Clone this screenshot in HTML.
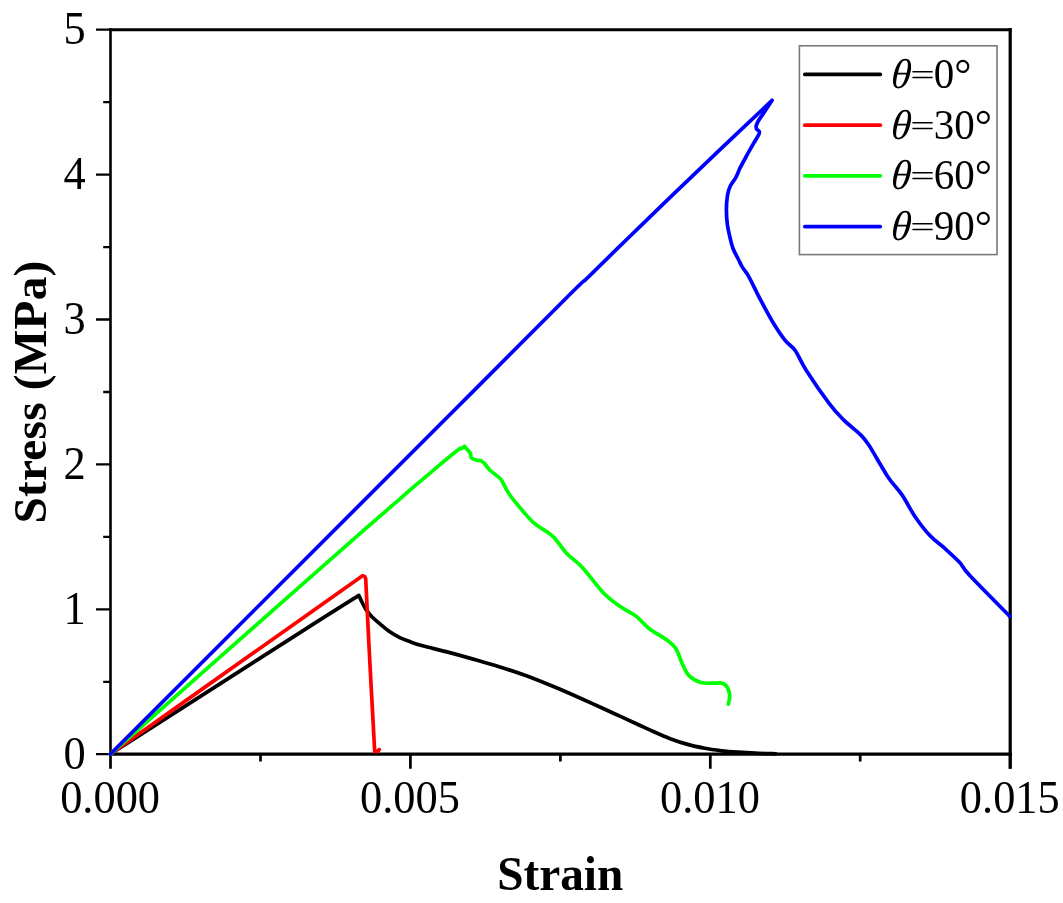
<!DOCTYPE html>
<html lang="en"><head><meta charset="utf-8"><title>Stress-Strain</title>
<style>html,body{margin:0;padding:0;background:#fff}body{width:1063px;height:903px;overflow:hidden}svg{display:block}</style>
</head><body>
<svg width="1063" height="903" viewBox="0 0 1063 903">
<rect width="1063" height="903" fill="#fff"/>
<g stroke="#000" stroke-linecap="square" fill="none">
<line x1="110.5" y1="29.7" x2="110.5" y2="754.2" stroke-width="2.6"/>
<line x1="110.5" y1="29.7" x2="1010.2" y2="29.7" stroke-width="2.9"/>
<line x1="1010.2" y1="29.7" x2="1010.2" y2="754.2" stroke-width="3.2"/>
<line x1="110.5" y1="754.2" x2="1010.2" y2="754.2" stroke-width="3.2"/>
</g>
<path d="M110.5 754.2v14.5M260.5 754.2v7.3M410.4 754.2v14.5M560.4 754.2v7.3M710.3 754.2v14.5M860.2 754.2v7.3M1010.2 754.2v14.5" stroke="#000" stroke-width="2.7" fill="none"/>
<path d="M110.5 754.2h-14.5M110.5 681.8h-7.3M110.5 609.3h-14.5M110.5 536.9h-7.3M110.5 464.4h-14.5M110.5 392.0h-7.3M110.5 319.5h-14.5M110.5 247.1h-7.3M110.5 174.6h-14.5M110.5 102.2h-7.3M110.5 29.7h-14.5" stroke="#000" stroke-width="2.3" fill="none"/>
<path d="M1010.2 754.2v14.5" stroke="#000" stroke-width="3.2" fill="none"/>
<g>
<path fill="none" stroke="#000" stroke-width="3.7" stroke-linejoin="round" stroke-linecap="round" d="M110.5 754.0C142.1 733.8 258.6 659.0 300.0 632.6C341.4 606.2 349.1 601.6 358.9 595.4C359.4 596.5 360.7 599.6 361.9 601.9C363.1 604.2 364.2 606.9 365.9 609.4C367.6 611.9 369.6 614.4 371.9 616.8C374.2 619.2 376.9 621.3 379.9 623.8C382.9 626.3 386.5 629.5 389.8 631.8C393.1 634.1 396.5 636.0 399.8 637.6C403.1 639.2 406.0 640.2 409.8 641.6C413.6 643.0 416.0 644.0 422.6 645.8C429.2 647.6 440.3 650.1 449.7 652.6C459.1 655.1 470.4 658.3 479.0 660.8C487.6 663.3 494.1 665.1 501.6 667.5C509.1 669.9 516.7 672.4 524.2 675.1C531.7 677.8 539.2 680.8 546.7 683.8C554.2 686.8 561.8 690.0 569.3 693.3C576.8 696.6 584.4 700.0 591.9 703.4C599.4 706.8 607.0 710.3 614.5 713.7C622.0 717.1 630.3 721.0 636.9 724.0C643.5 727.0 648.2 729.3 653.9 731.8C659.5 734.3 665.2 736.8 670.8 738.9C676.4 741.0 682.1 742.8 687.7 744.4C693.4 746.0 699.1 747.2 704.7 748.3C710.4 749.4 716.0 750.1 721.6 750.8C727.2 751.4 732.9 751.8 738.5 752.2C744.1 752.6 749.3 752.9 755.5 753.2C761.7 753.5 772.4 753.7 775.8 753.8"/>
<path fill="none" stroke="#ff0000" stroke-width="3.7" stroke-linejoin="round" stroke-linecap="round" d="M110.5 754.0C142.1 731.6 258.0 649.6 300.0 619.9C342.0 590.2 352.1 583.1 362.5 575.7C362.9 575.8 364.1 575.8 364.6 576.3C365.1 576.8 365.5 578.4 365.7 578.8C366.3 590.7 367.7 621.2 369.2 650.0C370.7 678.8 373.8 734.5 374.7 751.4C375.1 751.4 376.2 751.8 377.0 751.5C377.8 751.2 378.9 749.9 379.3 749.6"/>
<path fill="none" stroke="#00ff00" stroke-width="3.7" stroke-linejoin="round" stroke-linecap="round" d="M110.5 754.0C142.1 726.0 257.4 623.9 300.0 586.3C342.6 548.7 349.2 543.0 365.9 528.4C382.6 513.8 392.1 505.7 400.0 498.9C407.9 492.1 406.4 493.0 413.0 487.4C419.6 481.8 431.9 471.5 439.4 465.2C446.9 458.9 454.5 452.6 458.2 449.8C461.9 447.0 460.5 449.2 461.5 448.6C462.5 448.0 463.9 446.6 464.4 446.2C464.9 446.8 466.6 448.6 467.6 449.8C468.6 451.0 469.8 452.1 470.4 453.5C471.0 454.9 470.4 456.8 471.4 457.9C472.3 459.0 474.4 459.6 476.1 460.1C477.8 460.6 480.1 460.3 481.7 461.1C483.3 461.9 484.1 463.2 485.5 464.8C486.9 466.4 487.8 468.3 490.2 470.5C492.6 472.7 497.6 476.1 499.6 478.0C501.7 479.9 500.8 479.2 502.5 482.0C504.2 484.8 506.4 490.1 509.7 494.8C513.0 499.5 517.8 505.2 522.0 510.0C526.2 514.8 529.6 519.3 534.7 523.7C539.9 528.1 547.6 531.4 552.9 536.3C558.1 541.2 561.2 547.6 566.2 552.9C571.2 558.2 576.7 561.3 582.8 567.9C588.9 574.5 596.7 585.8 602.8 592.2C608.9 598.6 613.9 602.1 619.4 606.1C624.9 610.1 631.0 612.3 636.0 616.1C641.0 619.9 644.3 624.8 649.3 628.7C654.3 632.6 661.5 636.0 665.9 639.3C670.3 642.6 673.1 644.5 675.9 648.7C678.7 652.9 680.3 659.8 682.5 664.3C684.7 668.8 686.2 672.9 689.2 675.9C692.2 678.9 696.9 681.3 700.8 682.5C704.7 683.7 708.9 683.1 712.5 683.2C716.1 683.3 719.9 682.5 722.4 683.2C724.9 683.9 726.2 685.4 727.4 687.5C728.6 689.6 729.5 693.0 729.7 695.8C729.9 698.6 728.6 702.7 728.4 704.1"/>
<path fill="none" stroke="#0000ff" stroke-width="3.7" stroke-linejoin="round" stroke-linecap="round" d="M110.5 754.0C142.8 721.7 247.3 617.2 304.5 560.0C361.7 502.8 409.7 454.8 453.5 411.0C497.3 367.2 544.7 319.4 567.3 297.0C589.9 274.6 578.5 286.4 589.0 276.3C599.5 266.2 616.2 249.6 630.0 236.2C643.8 222.8 656.9 210.1 671.9 195.7C686.9 181.3 703.3 165.5 720.0 149.6C736.7 133.7 763.4 108.5 772.1 100.3C770.8 102.3 766.4 109.0 764.1 112.4C761.8 115.9 759.6 118.7 758.3 121.0C757.0 123.3 756.5 124.6 756.2 126.0C755.9 127.4 756.5 128.8 756.6 129.3C757.0 129.7 758.9 130.7 759.3 131.6C759.7 132.5 759.6 132.8 758.8 134.5C758.0 136.2 756.6 138.2 754.7 141.5C752.8 144.8 749.9 149.8 747.5 154.2C745.1 158.6 742.1 163.9 740.2 167.7C738.3 171.5 737.8 173.9 736.1 177.0C734.5 180.1 731.8 182.9 730.3 186.0C728.8 189.1 728.0 191.7 727.4 195.7C726.8 199.7 726.4 205.4 726.4 210.2C726.4 215.0 726.8 220.2 727.4 224.7C728.0 229.2 729.0 233.1 729.9 237.1C730.8 241.1 731.6 244.8 733.0 248.5C734.4 252.2 736.7 255.9 738.2 259.0C739.8 262.1 740.5 264.1 742.3 267.1C744.1 270.1 746.0 271.7 748.9 276.8C751.8 281.9 755.6 290.5 759.5 297.9C763.4 305.3 767.9 314.0 772.1 321.0C776.3 328.0 780.9 335.0 784.7 339.9C788.6 344.8 791.7 345.6 795.2 350.5C798.7 355.4 800.1 360.6 805.7 369.4C811.3 378.2 822.6 394.7 828.9 403.1C835.2 411.5 838.4 414.6 843.6 419.9C848.9 425.1 856.2 430.4 860.4 434.6C864.6 438.8 864.2 438.1 868.8 445.1C873.4 452.1 882.2 468.3 887.8 476.7C893.4 485.1 898.0 488.9 902.5 495.6C907.0 502.3 910.5 510.0 915.1 516.7C919.7 523.4 925.0 530.4 929.9 535.6C934.8 540.9 939.7 543.8 944.6 548.2C949.5 552.6 955.1 557.5 959.3 562.1C963.5 566.7 961.4 566.6 969.8 575.6C978.2 584.6 1003.1 609.6 1009.8 616.4"/>
</g>
<g font-family="'Liberation Serif', 'Times New Roman', Times, serif" font-size="44.4" fill="#000">
<text transform="translate(110.1,813.1) scale(1,1.04)" text-anchor="middle">0.000</text>
<text transform="translate(410.0,813.1) scale(1,1.04)" text-anchor="middle">0.005</text>
<text transform="translate(709.9,813.1) scale(1,1.04)" text-anchor="middle">0.010</text>
<text transform="translate(1009.8,813.1) scale(1,1.04)" text-anchor="middle">0.015</text>
<text transform="translate(85.8,768.5) scale(1,1.04)" text-anchor="end">0</text>
<text transform="translate(85.8,623.6) scale(1,1.04)" text-anchor="end">1</text>
<text transform="translate(85.8,478.7) scale(1,1.04)" text-anchor="end">2</text>
<text transform="translate(85.8,333.8) scale(1,1.04)" text-anchor="end">3</text>
<text transform="translate(85.8,188.9) scale(1,1.04)" text-anchor="end">4</text>
<text transform="translate(85.8,44.0) scale(1,1.04)" text-anchor="end">5</text>
</g>
<g font-family="'Liberation Serif', 'Times New Roman', Times, serif" font-weight="bold" fill="#000">
<text transform="translate(560.2,889.8) scale(1,1.02)" font-size="47.3" text-anchor="middle">Strain</text>
<text transform="translate(46.3,392) rotate(-90)" font-size="47.3" letter-spacing="0.2" text-anchor="middle">Stress (MPa)</text>
</g>
<rect x="799.4" y="45.8" width="197.6" height="208.8" fill="#fff" stroke="#7a7a7a" stroke-width="1.6"/>
<g font-family="'Liberation Serif', 'Times New Roman', Times, serif" font-size="41" fill="#000">
<line x1="804.8" x2="880.3" y1="74.4" y2="74.4" stroke="#000" stroke-width="3.7" stroke-linecap="round"/>
<text transform="translate(890.3,87.8) scale(1,1.02) skewX(-5)" font-style="italic">θ</text>
<text transform="translate(890.5,87.8) scale(1,1.02)"><tspan x="43.25">0</tspan><tspan font-size="43" dy="1.1">°</tspan></text>
<text transform="translate(910.2,75.3) scale(1.06,0.7)" y="13.6">=</text>
<line x1="804.8" x2="880.3" y1="125.2" y2="125.2" stroke="#ff0000" stroke-width="3.7" stroke-linecap="round"/>
<text transform="translate(890.3,138.6) scale(1,1.02) skewX(-5)" font-style="italic">θ</text>
<text transform="translate(890.5,138.6) scale(1,1.02)"><tspan x="43.25">30</tspan><tspan font-size="43" dy="1.1">°</tspan></text>
<text transform="translate(910.2,126.1) scale(1.06,0.7)" y="13.6">=</text>
<line x1="804.8" x2="880.3" y1="175.8" y2="175.8" stroke="#00ff00" stroke-width="3.7" stroke-linecap="round"/>
<text transform="translate(890.3,189.2) scale(1,1.02) skewX(-5)" font-style="italic">θ</text>
<text transform="translate(890.5,189.2) scale(1,1.02)"><tspan x="43.25">60</tspan><tspan font-size="43" dy="1.1">°</tspan></text>
<text transform="translate(910.2,176.7) scale(1.06,0.7)" y="13.6">=</text>
<line x1="804.8" x2="880.3" y1="226.6" y2="226.6" stroke="#0000ff" stroke-width="3.7" stroke-linecap="round"/>
<text transform="translate(890.3,240.0) scale(1,1.02) skewX(-5)" font-style="italic">θ</text>
<text transform="translate(890.5,240.0) scale(1,1.02)"><tspan x="43.25">90</tspan><tspan font-size="43" dy="1.1">°</tspan></text>
<text transform="translate(910.2,227.5) scale(1.06,0.7)" y="13.6">=</text>
</g>
</svg>
</body></html>
